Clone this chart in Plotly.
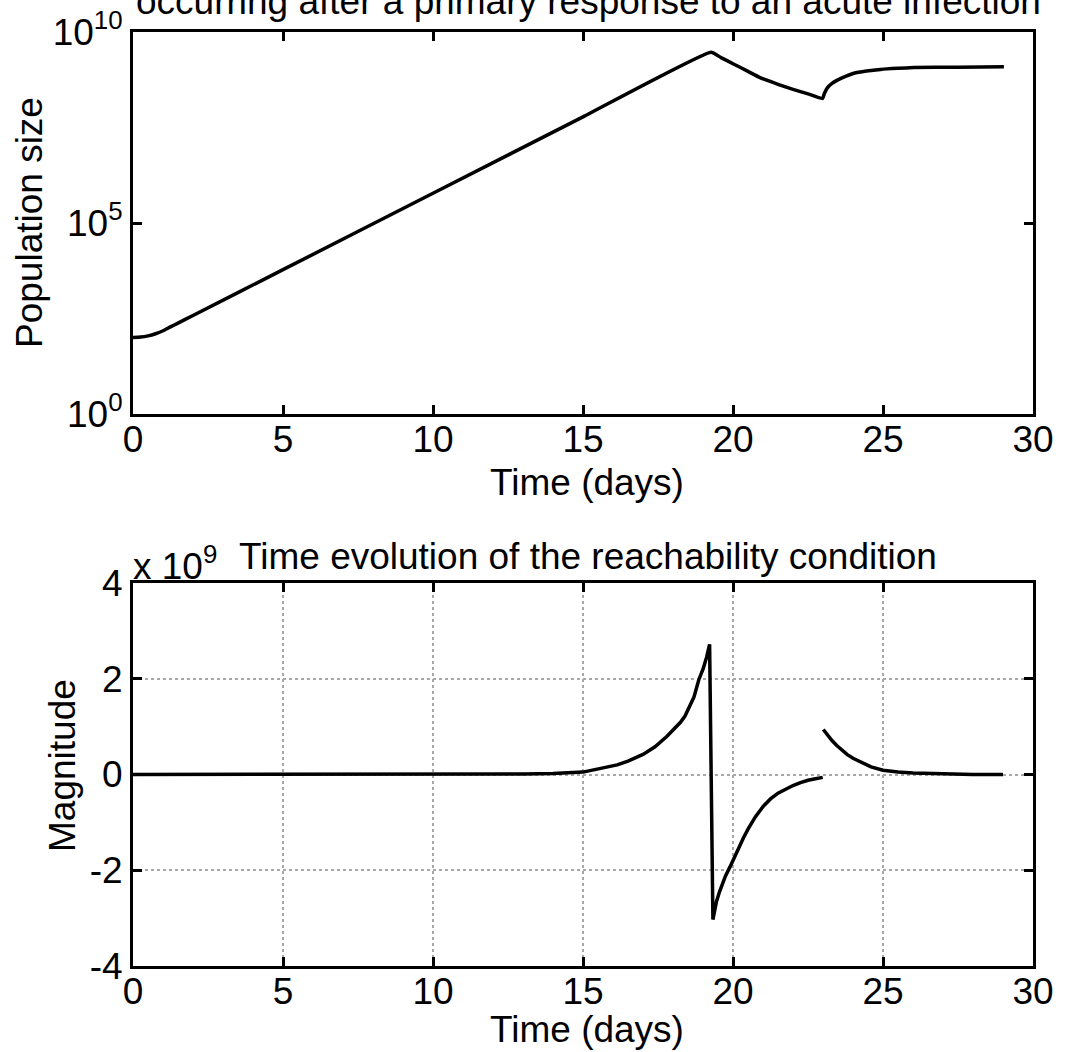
import plotly.graph_objects as go

# ---------------- data ----------------
# Top panel: population size vs time (log scale)
top_time = [0, 0.25, 0.5, 0.75, 1.0, 1.25, 1.5, 2.0, 5.0, 10.0, 15.0, 19.27,
            19.6, 20.0, 20.5, 20.92, 21.5, 22.0, 22.5, 22.98,
            23.05, 23.14, 23.3, 23.48, 23.75, 24.03, 24.45, 24.92, 25.5, 26.03, 27.5, 29.03]
top_pop = [100, 103, 111, 126, 151, 191, 240, 380, 6.0e3, 6.0e5, 6.0e7, 2.95e9,
           2.14e9, 1.48e9, 9.3e8, 6.3e8, 4.27e8, 3.16e8, 2.4e8, 1.82e8,
           2.5e8, 3.4e8, 4.5e8, 5.5e8, 6.9e8, 8.3e8, 9.5e8, 1.05e9, 1.12e9, 1.17e9, 1.2e9, 1.23e9]

# Bottom panel: reachability condition (units of 1e9), two segments
bot_time_a = [0, 5, 10, 12, 13, 14, 15, 16.14, 16.5, 17.0, 17.4, 17.8, 18.0, 18.25, 18.4,
              18.55, 18.7, 18.86, 19.0, 19.12, 19.22,
              19.33, 19.38, 19.45, 19.55, 19.65, 19.75, 19.9, 20.05, 20.2, 20.35, 20.5,
              20.75, 21.0, 21.25, 21.5, 21.75, 22.0, 22.25, 22.5, 22.75, 22.99]
bot_val_a = [0, 0, 0, 0.005, 0.012, 0.02, 0.05, 0.2, 0.28, 0.42, 0.58, 0.8, 0.92, 1.09, 1.22,
             1.42, 1.62, 1.98, 2.2, 2.45, 2.72,
             -3.03, -2.85, -2.65, -2.45, -2.27, -2.12, -1.93, -1.72, -1.52, -1.32, -1.14,
             -0.88, -0.67, -0.51, -0.39, -0.30, -0.23, -0.17, -0.12, -0.09, -0.06]
bot_time_b = [23.01, 23.15, 23.3, 23.45, 23.6, 23.8, 24.0, 24.3, 24.6, 25.0, 25.5, 26.0,
              27.0, 28.0, 29.0]
bot_val_b = [0.94, 0.82, 0.71, 0.61, 0.52, 0.42, 0.34, 0.24, 0.16, 0.09, 0.05, 0.03,
             0.01, 0.0, 0.0]

x_ticks = [0, 5, 10, 15, 20, 25, 30]
top_y_ticks = [1, 1e5, 1e10]
top_y_ticktext = ["10<sup>0</sup>", "10<sup>5</sup>", "10<sup>10</sup>"]
bot_y_ticks = [-4, -2, 0, 2, 4]
bot_y_ticktext = ["-4", "-2", "0", "2", "4"]

top_title = "occurring after a primary response to an acute infection"
bot_title = "Time evolution of the reachability condition"

# ---------------- figure ----------------
W, H = 1066, 1052
FONT = "Liberation Sans, Arial, sans-serif"
FS = 37

def px(x):
    return x / W

def py(y):
    return 1 - y / H

fig = go.Figure()
fig.add_trace(go.Scatter(x=top_time, y=top_pop, mode="lines",
                         line=dict(color="black", width=3.5, shape="spline", smoothing=0.4),
                         xaxis="x", yaxis="y", showlegend=False))
fig.add_trace(go.Scatter(x=bot_time_a, y=bot_val_a, mode="lines",
                         line=dict(color="black", width=3.5),
                         xaxis="x2", yaxis="y2", showlegend=False))
fig.add_trace(go.Scatter(x=bot_time_b, y=bot_val_b, mode="lines",
                         line=dict(color="black", width=3.5),
                         xaxis="x2", yaxis="y2", showlegend=False))

axis_common = dict(showline=True, linewidth=3, linecolor="black", mirror="ticks",
                   ticks="inside", ticklen=9, tickwidth=3, tickcolor="black",
                   zeroline=False, automargin=False,
                   tickfont=dict(family=FONT, size=FS, color="black"))

xdom = [px(133), px(1033)]
grid_style = dict(showgrid=True, gridcolor="#a8a8a8", gridwidth=1.5, griddash="dot")

fig.update_layout(
    template="none",
    width=W, height=H,
    margin=dict(l=0, r=0, t=0, b=0, pad=0),
    paper_bgcolor="white", plot_bgcolor="white",
    font=dict(family=FONT, size=FS, color="black"),
    xaxis=dict(domain=xdom, range=[0, 30], tickvals=x_ticks, showgrid=False,
               ticklabelstandoff=-9, anchor="y", **axis_common),
    yaxis=dict(domain=[py(414), py(32)], type="log", range=[0, 10],
               tickvals=top_y_ticks, ticktext=top_y_ticktext, showgrid=False,
               anchor="x", **axis_common),
    xaxis2=dict(domain=xdom, range=[0, 30], tickvals=x_ticks,
                ticklabelstandoff=-9, anchor="y2", **grid_style, **axis_common),
    yaxis2=dict(domain=[py(966), py(583)], range=[-4, 4],
                tickvals=bot_y_ticks, ticktext=bot_y_ticktext,
                anchor="x2", **grid_style, **axis_common),
)

ann_font = dict(family=FONT, size=FS, color="black")
annotations = [
    dict(text=top_title, x=px(588), y=py(1.5), xanchor="center", yanchor="middle"),
    dict(text="Time (days)", x=px(587), y=py(482), xanchor="center", yanchor="middle"),
    dict(text="Population size", x=px(29), y=py(223), xanchor="center", yanchor="middle",
         textangle=-90),
    dict(text=bot_title, x=px(588), y=py(556), xanchor="center", yanchor="middle"),
    dict(text="x 10<sup>9</sup>", x=px(131), y=py(563), xanchor="left", yanchor="middle"),
    dict(text="Time (days)", x=px(587), y=py(1029), xanchor="center", yanchor="middle"),
    dict(text="Magnitude", x=px(62), y=py(766), xanchor="center", yanchor="middle",
         textangle=-90),
]
for a in annotations:
    a.update(xref="paper", yref="paper", showarrow=False, font=ann_font)
fig.update_layout(annotations=annotations)

fig.write_html("out.html")
